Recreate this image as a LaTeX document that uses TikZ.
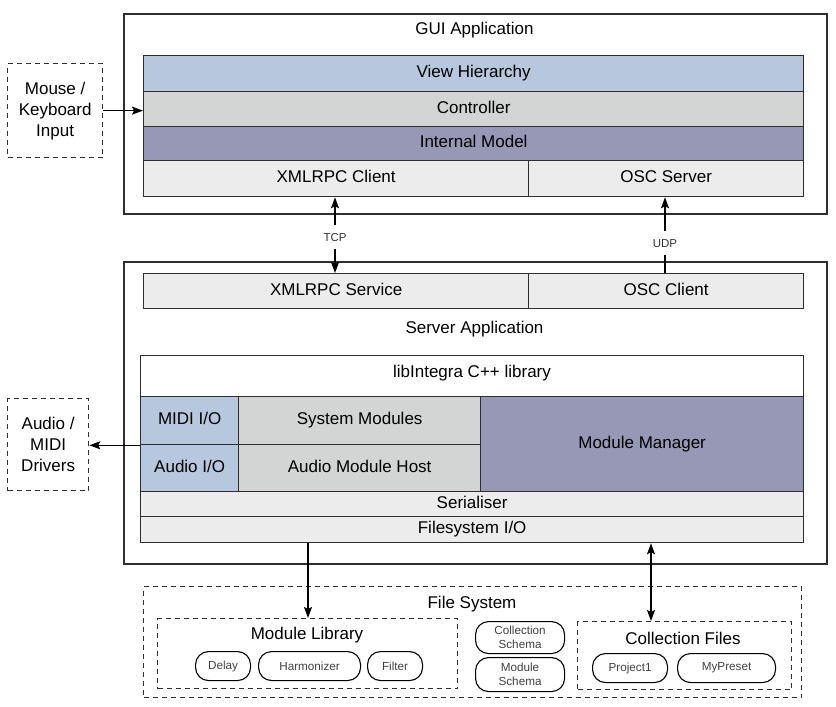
\documentclass[tikz,border=0pt]{standalone}
\usepackage{fontspec}
\setmainfont{Liberation Sans}
\usepackage{xcolor}
\usetikzlibrary{arrows.meta}

\definecolor{viewblue}{HTML}{B7C7DD}
\definecolor{ctrlgray}{HTML}{D3D5D4}
\definecolor{modelpurple}{HTML}{9797B6}
\definecolor{palegray}{HTML}{ECECEC}
\definecolor{edgegray}{HTML}{2E2E2E}

\begin{document}
\begin{tikzpicture}[x=1pt, y=-1pt,
    frame/.style={draw=edgegray, line width=1.5pt, anchor=north west, inner sep=0pt},
    layer/.style={draw=edgegray, line width=1.3pt, anchor=north west, inner sep=0pt,
                  font=\fontsize{17}{21}\selectfont, text height=12pt, text depth=3.5pt},
    dashbox/.style={draw=edgegray, line width=1.3pt, dash pattern=on 5pt off 4pt,
                    anchor=north west, inner sep=0pt, align=center, font=\fontsize{17}{21}\selectfont},
    pill/.style={draw=black, line width=1.1pt, rounded corners=13pt, anchor=north west, inner sep=0pt,
                 align=center, text=black!75, font=\fontsize{11.7}{14}\selectfont},
    title/.style={font=\fontsize{17}{21}\selectfont},
    wirelabel/.style={fill=white, inner xsep=2pt, inner ysep=8pt, text=black!80, font=\fontsize{11.5}{13}\selectfont},
    link/.style={line width=1.3pt, -{Stealth[length=11pt, width=8pt, inset=2pt]}},
    duplex/.style={line width=1.3pt, {Stealth[length=11pt, width=8pt, inset=2pt]}-{Stealth[length=11pt, width=8pt, inset=2pt]}}]
                    \useasboundingbox (0,0) rectangle (836,707);

                    % GUI application
                    \node[frame, minimum width=703pt, minimum height=200pt] (gui) at (123,13) {};
                    \node[title] (guititle) at (474.5,30) {GUI Application};
                    \node[layer, fill=viewblue, minimum width=660pt, minimum height=36pt] (view) at (143,55) {View Hierarchy};
                    \node[layer, fill=ctrlgray, minimum width=660pt, minimum height=35pt] (ctrl) at (143,91) {Controller};
                    \node[layer, fill=modelpurple, minimum width=660pt, minimum height=34pt] (model) at (143,126) {Internal Model};
                    \node[layer, fill=palegray, minimum width=385pt, minimum height=36pt] (xmlc) at (143,160) {XMLRPC Client};
                    \node[layer, fill=palegray, minimum width=275pt, minimum height=36pt] (oscs) at (528,160) {OSC Server};

                    % Server application
                    \node[frame, minimum width=703pt, minimum height=302pt] (server) at (123,261) {};
                    \node[layer, fill=palegray, minimum width=385pt, minimum height=35pt] (xmls) at (143,273) {XMLRPC Service};
                    \node[layer, fill=palegray, minimum width=275pt, minimum height=35pt] (oscc) at (528,273) {OSC Client};
                    \node[title] (servertitle) at (474.5,329) {Server Application};

                    % libIntegra
                    \node[layer, fill=white, minimum width=663pt, minimum height=187pt] (lib) at (140,355) {};
                    \node[title] (libtitle) at (472,373) {libIntegra C++ library};
                    \node[layer, fill=viewblue, minimum width=98pt, minimum height=48pt] (midi) at (140,396) {MIDI I/O};
                    \node[layer, fill=viewblue, minimum width=98pt, minimum height=47pt] (audio) at (140,444) {Audio I/O};
                    \node[layer, fill=ctrlgray, minimum width=242pt, minimum height=48pt] (sysmod) at (238,396) {System Modules};
                    \node[layer, fill=ctrlgray, minimum width=242pt, minimum height=47pt] (host) at (238,444) {Audio Module Host};
                    \node[layer, fill=modelpurple, minimum width=323pt, minimum height=95pt] (manager) at (480,396) {Module Manager};
                    \node[layer, fill=palegray, minimum width=663pt, minimum height=25pt] (serial) at (140,491) {Serialiser};
                    \node[layer, fill=palegray, minimum width=663pt, minimum height=26pt] (fsio) at (140,516) {Filesystem I/O};

                    % Outside devices
                    \node[dashbox, minimum width=95pt, minimum height=94pt] (mouse) at (7,63) {Mouse /\\Keyboard\\Input};
                    \node[dashbox, minimum width=81pt, minimum height=92pt] (drivers) at (7,398) {Audio /\\MIDI\\Drivers};

                    % File system
                    \node[dashbox, minimum width=658pt, minimum height=111pt] (fs) at (143,586) {};
                    \node[title] (fstitle) at (472,604) {File System};
                    \node[dashbox, minimum width=300pt, minimum height=70pt] (modlib) at (157,618) {};
                    \node[title] (modlibtitle) at (307,635) {Module Library};
                    \node[pill, minimum width=55pt, minimum height=29pt] (delay) at (195,651) {Delay};
                    \node[pill, minimum width=102pt, minimum height=29pt] (harm) at (258,651) {Harmonizer};
                    \node[pill, minimum width=55pt, minimum height=29pt] (filter) at (367,651) {Filter};
                    \node[pill, minimum width=89pt, minimum height=32pt] (colschema) at (475,621) {Collection\\Schema};
                    \node[pill, minimum width=89pt, minimum height=34pt] (modschema) at (475,657) {Module\\Schema};
                    \node[dashbox, minimum width=214pt, minimum height=68pt] (colfiles) at (577,621) {};
                    \node[title] (colfilestitle) at (683,638) {Collection Files};
                    \node[pill, minimum width=75pt, minimum height=29pt] (proj) at (592,653) {Project1};
                    \node[pill, minimum width=98pt, minimum height=29pt] (preset) at (677,653) {MyPreset};

                    % Connectors
                    \coordinate (tcpx) at (335,0);
                    \coordinate (udpx) at (665,0);
                    \coordinate (libx) at (308,0);
                    \coordinate (filesx) at (651,0);
                    \draw[link] (mouse.east) -- (mouse.east -| ctrl.west);
                    \draw[link] (midi.south west) -- (drivers.east |- midi.south west);
                    \draw[duplex] (xmlc.south -| tcpx) -- node[wirelabel, pos=0.53] (tcp) {TCP} (xmls.north -| tcpx);
                    \draw[link] (oscc.north -| udpx) -- node[wirelabel, pos=0.39] (udp) {UDP} (oscs.south -| udpx);
                    \draw[link] (fsio.south -| libx) -- (modlib.north -| libx);
                    \draw[duplex] (fsio.south -| filesx) -- (colfiles.north -| filesx);
                \end{tikzpicture}
\end{document}
